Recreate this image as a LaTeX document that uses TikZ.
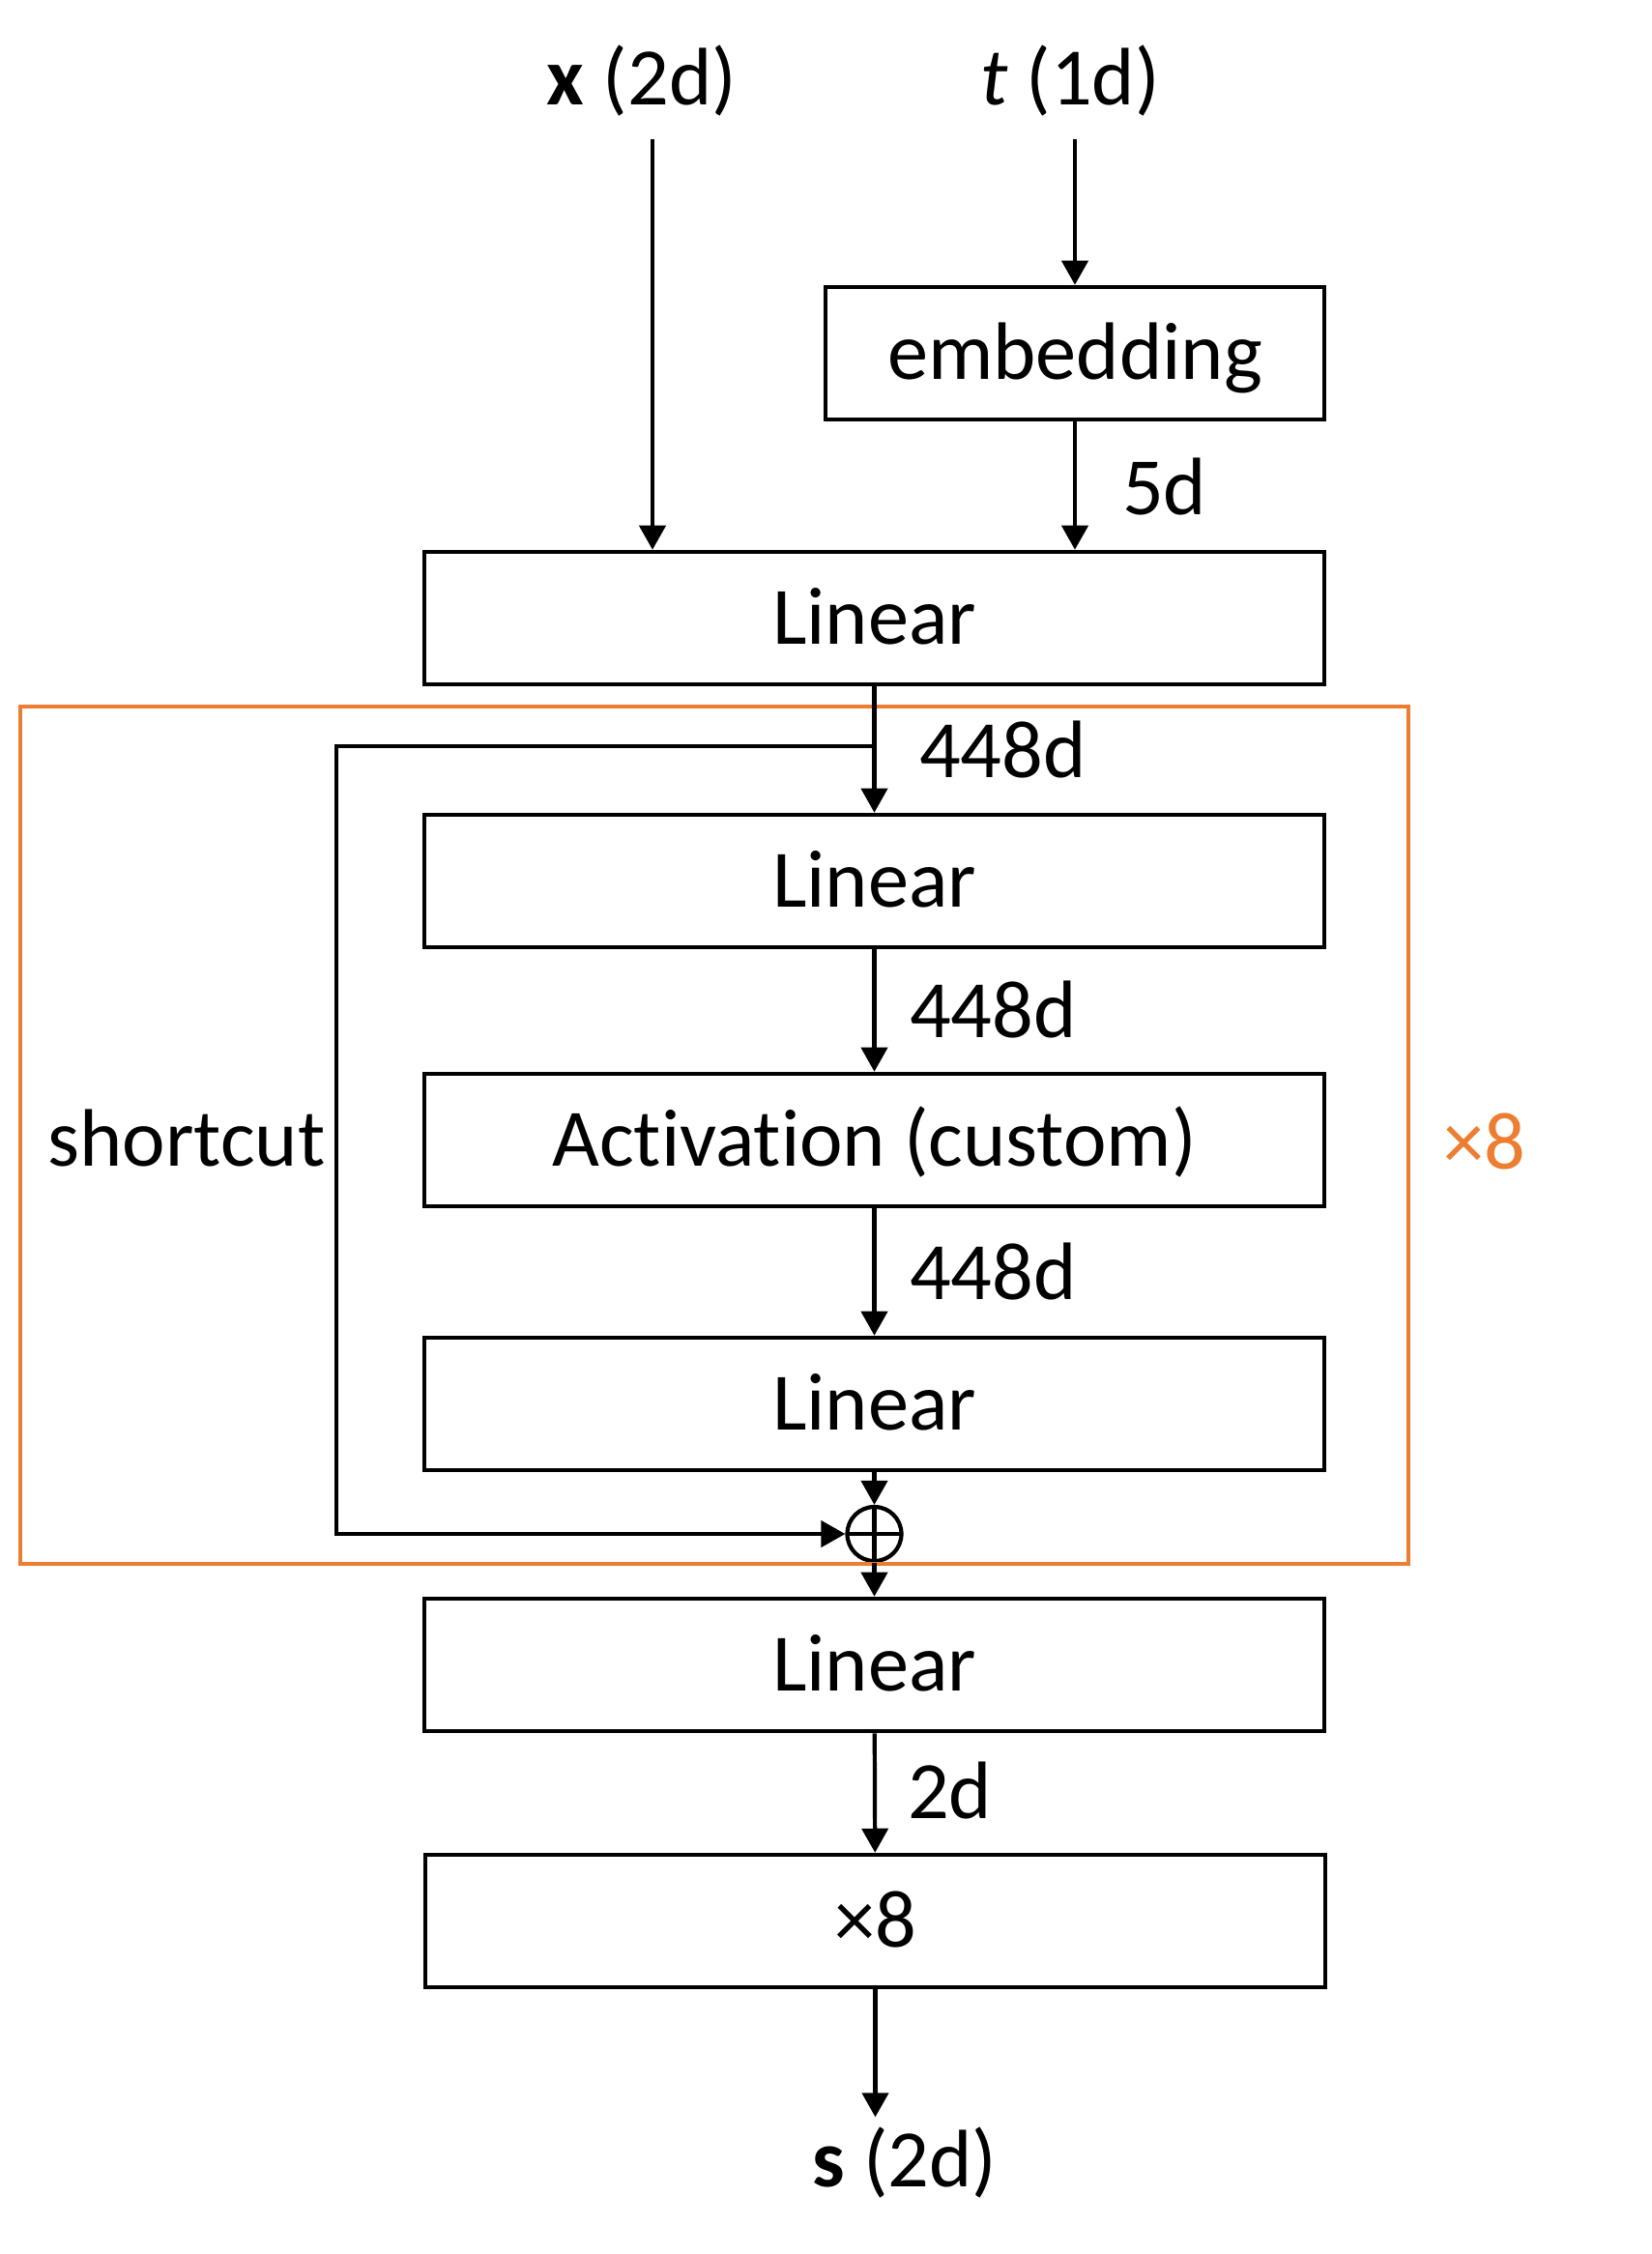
\documentclass[tikz,border=0pt]{standalone}
\usepackage{fontspec}
\setmainfont{Carlito}[Ligatures=NoCommon]
\usepackage{tikz}
\usetikzlibrary{arrows.meta}
\definecolor{blackmain}{HTML}{000000}
\definecolor{orangeacc}{HTML}{ED7D31}
\tikzset{every node/.append style={font=\fontsize{24}{28}\selectfont,inner sep=0pt,text height=20pt,text depth=4.8pt},
  layer/.style={draw=blackmain,line width=1.3pt,minimum width=9.31cm,minimum height=1.37cm},
  addop/.style={draw=blackmain,circle,line width=1.2pt,minimum size=.56cm,text height=0pt,text depth=0pt,
    path picture={\draw[line width=1.2pt] (path picture bounding box.north)--(path picture bounding box.south)
      (path picture bounding box.west)--(path picture bounding box.east);}},
  dimlabel/.style={anchor=west}}

\begin{document}
\begin{tikzpicture}[>={Triangle[length=.25cm,width=.27cm]},line width=1.2pt]
\useasboundingbox (0,0) rectangle (17.09,-23.32);
\node (xin) at (6.64,-.82) {\textbf{x} (2d)};
\node (tin) at (11.07,-.82) {\textit{t} (1d)};
\coordinate (xtop) at (6.75,-1.44);
\coordinate (ttop) at (11.12,-1.44);
\node[layer,minimum width=5.16cm] (emb) at (11.12,-3.655) {embedding};
\node[layer] (lin1) at (9.045,-6.395) {Linear};
\node[layer] (lin2) at (9.045,-9.115) {Linear};
\node[layer] (act) at (9.045,-11.795) {Activation (custom)};
\node[layer] (lin3) at (9.045,-14.525) {Linear};
\node[addop] (add) at (9.045,-15.87) {};
\node[layer] (lin4) at (9.045,-17.225) {Linear};
\node[layer] (mul) at (9.055,-19.875) {×8};
\node (sout) at (9.36,-22.36) {\textbf{s} (2d)};
\draw[orangeacc] (.21,-7.31) rectangle (14.57,-16.18);
\node[orangeacc] (rep) at (15.36,-11.83) {×8};
\node (sclabel) at (1.93,-11.80) {shortcut};
\draw[->] (xtop)--(xtop |- lin1.north);
\draw[->] (ttop)--(emb.north);
\draw[->] (emb.south)--(emb.south |- lin1.north);
\draw[->] (lin1)--(lin2);
\draw[->] (lin2)--(act);
\draw[->] (act)--(lin3);
\draw[->] (lin3)--(add);
\draw[->] (add)--(lin4);
\draw[->] (lin4)--(mul);
\draw[->] (mul.south)--(mul.south |- sout.north);
\coordinate (split) at (9.045,-7.72);
\coordinate (scorner) at (3.48,-7.72);
\draw[->] (split)--(scorner) |- (add.west);
\node[dimlabel] at (11.59,-5.06) {5d};
\node[dimlabel] at (9.49,-7.78) {448d};
\node[dimlabel] at (9.39,-10.47) {448d};
\node[dimlabel] at (9.39,-13.18) {448d};
\node[dimlabel] at (9.37,-18.55) {2d};
\end{tikzpicture}
\end{document}
